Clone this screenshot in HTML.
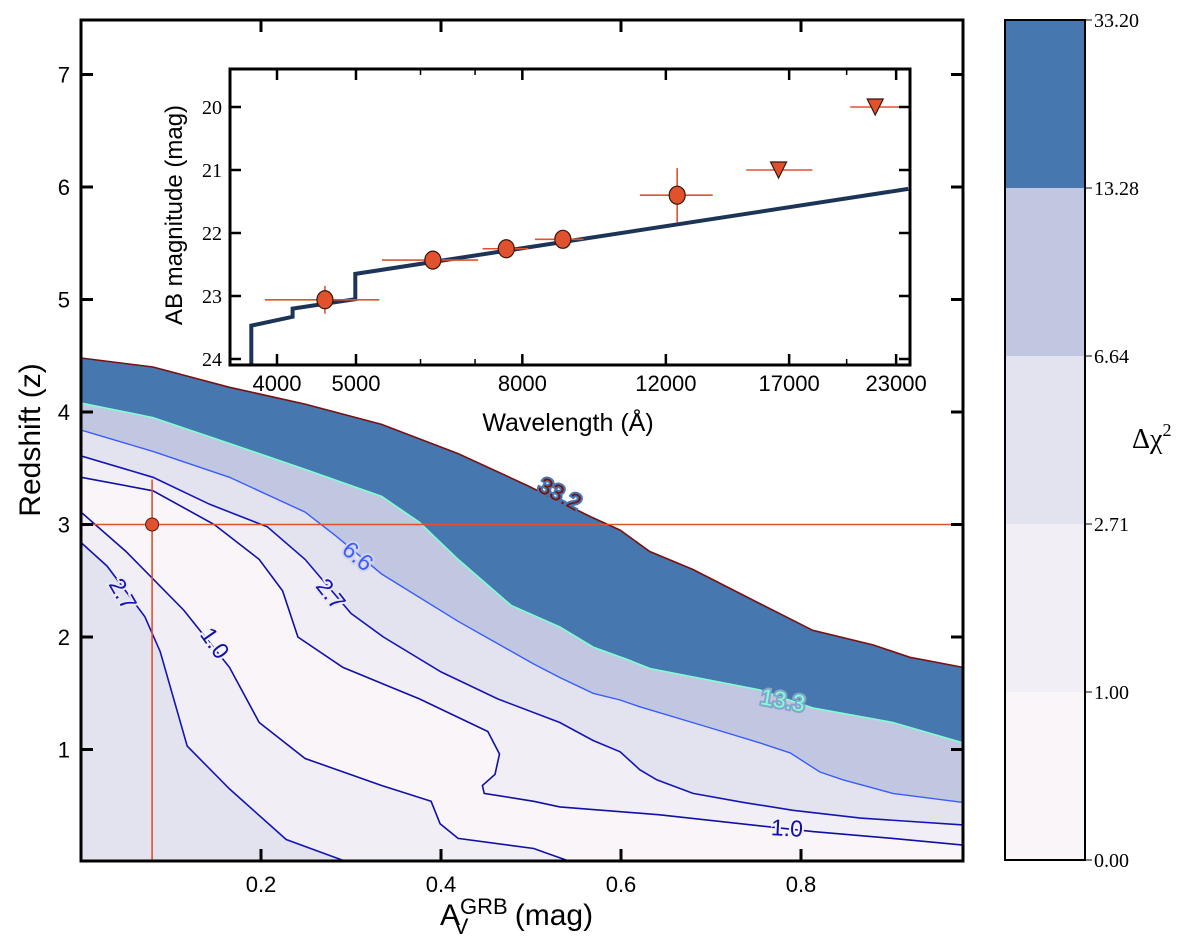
<!DOCTYPE html>
<html><head><meta charset="utf-8"><style>
html,body{margin:0;padding:0;background:#fff;}
svg{display:block;}
text{font-family:"Liberation Sans",sans-serif;}
.serif{font-family:"Liberation Serif",serif;}
</style></head><body>
<svg id="chart" width="1200" height="952" viewBox="0 0 1200 952" xmlns="http://www.w3.org/2000/svg">
<defs><clipPath id="mainclip"><rect x="81" y="20" width="882" height="841"/></clipPath>
<clipPath id="insclip"><rect x="230" y="69" width="680" height="296"/></clipPath></defs>
<g id="main"></g>
<g id="inset"></g>
<g id="cbar"></g>
</svg>
<script>
// ---- main contour data ----
const c332X=[0,.08,.165,.249,.334,.419,.495,.566,.599,.632,.68,.702,.751,.813,.88,.921,.954,.98];
const c332Z=[4.48,4.40,4.22,4.07,3.89,3.63,3.35,3.07,2.95,2.76,2.6,2.51,2.31,2.06,1.93,1.82,1.77,1.73];
const c133X=[0,.08,.165,.249,.334,.376,.419,.478,.532,.569,.607,.632,.754,.813,.902,.98];
const c133Z=[4.08,3.95,3.72,3.49,3.25,3.02,2.69,2.28,2.09,1.91,1.8,1.72,1.53,1.37,1.24,1.06];
const c66X=[0,.08,.165,.249,.283,.334,.419,.503,.532,.569,.599,.621,.696,.754,.788,.821,.847,.902,.98];
const c66Z=[3.84,3.65,3.42,3.11,2.9,2.56,2.14,1.76,1.64,1.5,1.44,1.38,1.2,1.06,.97,.8,.73,.61,.53];
const c27aX=[0,.08,.143,.207,.249,.3,.336,.4,.463,.532,.569,.599,.621,.64,.68,.736,.791,.866,.98];
const c27aZ=[3.61,3.42,3.18,2.98,2.69,2.21,2.0,1.69,1.45,1.24,1.08,.98,.82,.73,.61,.53,.46,.39,.33];
const c10aX=[0,.08,.148,.198,.224,.241,.291,.376,.452,.465,.46,.446,.448,.503,.532,.643,.813,.902,.98];
const c10aZ=[3.42,3.30,3.0,2.69,2.41,2.0,1.73,1.45,1.16,.96,.78,.68,.61,.54,.49,.42,.27,.21,.15];
const c10bX=[0,.05,.114,.165,.198,.249,.334,.389,.399,.419,.503,.545];
const c10bZ=[3.11,2.76,2.24,1.73,1.24,.92,.68,.54,.34,.21,.12,0];
const c27bX=[0,.029,.071,.088,.118,.165,.228,.296];
const c27bZ=[2.84,2.63,2.18,1.87,1.03,.65,.2,0];
const xTicks=[0.2,0.4,0.6,0.8];
const zTicks=[1,2,3,4,5,6,7];
const bestAv=[0.079];
const bestZ=[3.0];
const bestZTop=[3.4];
// ---- inset SED data ----
const photWave=[4580,6213,7645,8970,12390];
const photMag=[23.06,22.43,22.25,22.1,21.4];
const photWLo=[3865,5380,7150,8290,11150];
const photWHi=[5340,7060,8140,9510,13700];
const photMErr=[0.22,0.04,0.03,0.03,0.43];
const limWave=[16500,21680];
const limMag=[21.0,20.0];
const limWLo=[15060,20200];
const limWHi=[18150,23200];
const modelWave=[3720,3720,4180,4180,4990,4990,23800];
const modelMag=[24.3,23.47,23.33,23.2,23.05,22.65,21.3];
const waveTicks=[4000,5000,8000,12000,17000,23000];
const waveMinor=[6000,7000,20000];
const magTicks=[20,21,22,23,24];
// ---- colorbar ----
const cbLevels=["0.00","1.00","2.71","6.64","13.28","33.20"];
const cbColors=["#f9f5f9","#f1eef6","#e3e3f0","#c1c7e0","#4677ae"];

const NS="http://www.w3.org/2000/svg";
function mk(parent,tag,attrs,txt){const e=document.createElementNS(NS,tag);for(const k in attrs)e.setAttribute(k,attrs[k]);if(txt!==undefined)e.textContent=txt;parent.appendChild(e);return e;}
const X=v=>81+900*v, Y=z=>862-112.5*z;
const main=document.getElementById('main');
const cl=mk(main,'g',{'clip-path':'url(#mainclip)'});


function pts(xs,zs){return xs.map((x,i)=>X(x).toFixed(1)+','+Y(zs[i]).toFixed(1));}
function fillBelow(xs,zs,color,name){const p=pts(xs,zs);p.push(X(1)+','+Y(-0.5));p.push(X(0)+','+Y(-0.5));const e=mk(cl,'polygon',{points:p.join(' '),fill:color});}
function fillLeft(xs,zs,color,name){const p=pts(xs,zs);p.push(X(-0.1)+','+Y(-0.5));p.push(X(-0.1)+','+Y(zs[0]));const e=mk(cl,'polygon',{points:p.join(' '),fill:color});}
fillBelow(c332X,c332Z,cbColors[4],'band-13-33');
fillBelow(c133X,c133Z,cbColors[3],'band-6-13');
fillBelow(c66X,c66Z,cbColors[2],'band-2.7-6.6');
fillBelow(c27aX,c27aZ,cbColors[1],'band-1-2.7');
fillBelow(c10aX,c10aZ,cbColors[0],'band-0-1');
fillLeft(c10bX,c10bZ,cbColors[1],'band-1-2.7-left');
fillLeft(c27bX,c27bZ,cbColors[2],'band-2.7-6.6-left');
function line(xs,zs,color,w,name){const e=mk(cl,'polyline',{points:pts(xs,zs).join(' '),fill:'none',stroke:color,'stroke-width':w});}
line(c332X,c332Z,'#7a1010',1.6,'contour-33.2');
line(c133X,c133Z,'#7fffd4',1.6,'contour-13.3');
line(c66X,c66Z,'#3a5cff',1.4,'contour-6.6');
line(c27aX,c27aZ,'#1515b5',1.6,'contour-2.7-upper');
line(c10aX,c10aZ,'#1010a8',1.6,'contour-1.0-upper');
line(c10bX,c10bZ,'#1010a8',1.6,'contour-1.0-lower');
line(c27bX,c27bZ,'#1515b5',1.6,'contour-2.7-lower');
// contour labels
const labs=[["33.2",560,494,28,'#7a1010','#4677ae'],["13.3",783,700,10,'#7fffd4','#88a4cc'],["6.6",358,556,40,'#3a5cff','#d2d5e8'],["2.7",331,594,52,'#1515b5','#eae8f3'],["2.7",123,594,60,'#1515b5','#eae8f3'],["1.0",215,643,55,'#1010a8','#f5f2f7'],["1.0",787,828,3,'#1010a8','#f5f2f7']];
labs.forEach(l=>{const t=mk(cl,'text',{x:l[1],y:l[2]+8,'text-anchor':'middle','font-size':23,fill:l[4],stroke:l[5],'stroke-width':4,'paint-order':'stroke',transform:`rotate(${l[3]} ${l[1]} ${l[2]})`},l[0]);});
// best fit crosshair
const bx=X(bestAv[0]),by=Y(bestZ[0]);
let e=mk(cl,'line',{x1:81,x2:963,y1:by,y2:by,stroke:'#e0522e','stroke-width':1.6});

e=mk(cl,'line',{x1:bx,x2:bx,y1:Y(bestZTop[0]),y2:862,stroke:'#e0522e','stroke-width':1.6});

e=mk(cl,'circle',{cx:bx,cy:by,r:6.5,fill:'#e0522e',stroke:'#5a1a10','stroke-width':1});

// frame & ticks
e=mk(main,'rect',{x:81,y:20,width:882,height:841,fill:'none',stroke:'#000','stroke-width':3});

xTicks.forEach(v=>{mk(main,'line',{x1:X(v),x2:X(v),y1:861,y2:849,stroke:'#000','stroke-width':3});mk(main,'line',{x1:X(v),x2:X(v),y1:20,y2:32,stroke:'#000','stroke-width':3});
const t=mk(main,'text',{x:X(v),y:892,'text-anchor':'middle','font-size':22},v.toFixed(1));});
zTicks.forEach(v=>{mk(main,'line',{x1:81,x2:93,y1:Y(v),y2:Y(v),stroke:'#000','stroke-width':3});mk(main,'line',{x1:963,x2:951,y1:Y(v),y2:Y(v),stroke:'#000','stroke-width':3});
const t=mk(main,'text',{x:70,y:Y(v)+8,'text-anchor':'end','font-size':22},String(v));});
e=mk(main,'text',{x:40,y:440,'text-anchor':'middle','font-size':30,transform:'rotate(-90 40 440)'},'Redshift (z)');

e=mk(main,'text',{x:440,y:925,'font-size':30},'');

mk(e,'tspan',{},'A');mk(e,'tspan',{dy:-11,'font-size':22},'GRB');mk(e,'tspan',{dx:-54,dy:20,'font-size':22},'V');mk(e,'tspan',{dx:38,dy:-9},' (mag)');

// ---- inset ----
const ins=document.getElementById('inset');
const WX=w=>277+815*Math.log10(w/4000), MY=m=>107+63*(m-20);
e=mk(ins,'rect',{x:230,y:69,width:680,height:296,fill:'#fff'});

const ic=mk(ins,'g',{'clip-path':'url(#insclip)'});
e=mk(ic,'polyline',{points:modelWave.map((w,i)=>WX(w).toFixed(1)+','+MY(modelMag[i]).toFixed(1)).join(' '),fill:'none',stroke:'#1c3557','stroke-width':4});

photWave.forEach((w,i)=>{const g=mk(ic,'g',{});
mk(g,'line',{x1:WX(photWLo[i]),x2:WX(photWHi[i]),y1:MY(photMag[i]),y2:MY(photMag[i]),stroke:'#e0522e','stroke-width':1.6});
mk(g,'line',{x1:WX(w),x2:WX(w),y1:MY(photMag[i]-photMErr[i]),y2:MY(photMag[i]+photMErr[i]),stroke:'#e0522e','stroke-width':1.6});
mk(g,'ellipse',{cx:WX(w),cy:MY(photMag[i]),rx:8,ry:9,fill:'#e0522e',stroke:'#3a1408','stroke-width':1.2});});
limWave.forEach((w,i)=>{const g=mk(ic,'g',{});
const cx=WX(w),cy=MY(limMag[i]);
mk(g,'line',{x1:WX(limWLo[i]),x2:WX(limWHi[i]),y1:cy,y2:cy,stroke:'#e0522e','stroke-width':1.6});
mk(g,'polygon',{points:`${cx-8},${cy-8} ${cx+8},${cy-8} ${cx},${cy+8}`,fill:'#e0522e',stroke:'#3a1408','stroke-width':1.2});});
e=mk(ins,'rect',{x:230,y:69,width:680,height:296,fill:'none',stroke:'#000','stroke-width':3});

waveTicks.forEach(w=>{mk(ins,'line',{x1:WX(w),x2:WX(w),y1:365,y2:354,stroke:'#000','stroke-width':2.5});mk(ins,'line',{x1:WX(w),x2:WX(w),y1:69,y2:80,stroke:'#000','stroke-width':2.5});
const t=mk(ins,'text',{x:WX(w),y:391,'text-anchor':'middle','font-size':22},String(w));});
waveMinor.forEach(w=>{mk(ins,'line',{x1:WX(w),x2:WX(w),y1:365,y2:359,stroke:'#000','stroke-width':1.5});mk(ins,'line',{x1:WX(w),x2:WX(w),y1:69,y2:75,stroke:'#000','stroke-width':1.5});});
magTicks.forEach(m=>{mk(ins,'line',{x1:230,x2:241,y1:MY(m),y2:MY(m),stroke:'#000','stroke-width':2.5});mk(ins,'line',{x1:910,x2:899,y1:MY(m),y2:MY(m),stroke:'#000','stroke-width':2.5});
const t=mk(ins,'text',{x:222,y:MY(m)+7,'text-anchor':'end','font-size':20,'class':'serif'},String(m));});
e=mk(ins,'text',{x:182,y:215,'text-anchor':'middle','font-size':24,transform:'rotate(-90 182 215)'},'AB magnitude (mag)');

e=mk(ins,'text',{x:568,y:431,'text-anchor':'middle','font-size':25},'Wavelength (Å)');


// ---- colorbar ----
const cb=document.getElementById('cbar');
const bandH=840/cbColors.length;
cbColors.forEach((c,i)=>{const r=mk(cb,'rect',{x:1005,y:860-(i+1)*bandH,width:80,height:bandH,fill:c});});
e=mk(cb,'rect',{x:1005,y:20,width:80,height:840,fill:'none',stroke:'#000','stroke-width':2});

cbLevels.forEach((l,i)=>{const y=860-i*bandH;mk(cb,'line',{x1:1085,x2:1092,y1:y,y2:y,stroke:'#000','stroke-width':1});
const t=mk(cb,'text',{x:1094,y:y+7,'font-size':20,'class':'serif'},l);});
e=mk(cb,'text',{x:1132,y:448,'font-size':28,'class':'serif'},'Δχ');

mk(e,'tspan',{dy:-12,'font-size':18},'2');
</script>
</body></html>
